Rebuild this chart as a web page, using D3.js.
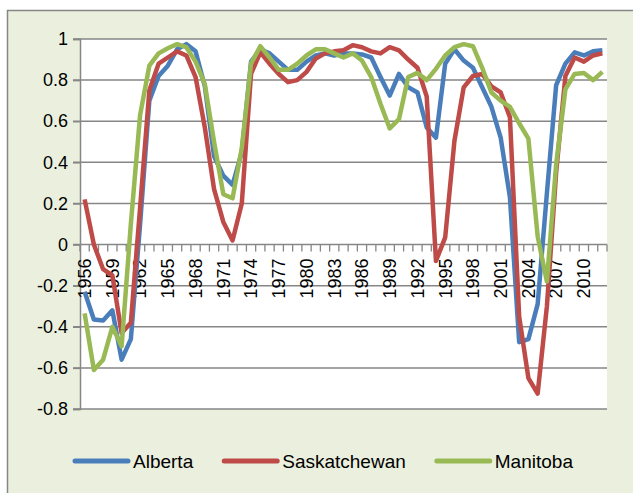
<!DOCTYPE html>
<html>
<head>
<meta charset="utf-8">
<script src="https://cdn.jsdelivr.net/npm/d3@7"></script>
<style>
  body { margin: 0; background: #fff; }
  svg { display: block; font-family: "Liberation Sans", Arial, sans-serif; }
</style>
</head>
<body>
<div class="wrapper"></div>
<script>
var years = d3.range(1956, 2013);
var yearLabels = years.filter(function(d) { return (d - 1956) % 3 === 0; });
var yTicks = [-0.8, -0.6, -0.4, -0.2, 0, 0.2, 0.4, 0.6, 0.8, 1];

var alberta = [-0.23, -0.365, -0.37, -0.32, -0.56, -0.46, 0.1, 0.7, 0.82, 0.87,
  0.95, 0.975, 0.94, 0.77, 0.43, 0.335, 0.29, 0.45, 0.89, 0.95,
  0.93, 0.89, 0.85, 0.85, 0.89, 0.92, 0.93, 0.92, 0.93, 0.93,
  0.925, 0.91, 0.815, 0.725, 0.83, 0.765, 0.74, 0.57, 0.52, 0.88,
  0.95, 0.895, 0.86, 0.765, 0.67, 0.52, 0.23, -0.475, -0.46, -0.29,
  0.25, 0.775, 0.88, 0.935, 0.92, 0.94, 0.945];

var saskatchewan = [0.22, 0.0, -0.12, -0.15, -0.43, -0.38, 0.18, 0.75, 0.88, 0.91,
  0.94, 0.92, 0.815, 0.57, 0.27, 0.11, 0.02, 0.2, 0.83, 0.935,
  0.88, 0.83, 0.79, 0.8, 0.84, 0.905, 0.93, 0.94, 0.945, 0.97,
  0.96, 0.94, 0.93, 0.96, 0.945, 0.9, 0.86, 0.72, -0.08, 0.035,
  0.505, 0.765, 0.82, 0.83, 0.77, 0.74, 0.62, -0.35, -0.65, -0.725,
  -0.3, 0.35, 0.82, 0.91, 0.89, 0.92, 0.93];

var manitoba = [-0.335, -0.61, -0.56, -0.4, -0.495, 0.1, 0.63, 0.87, 0.93, 0.955,
  0.975, 0.96, 0.89, 0.78, 0.5, 0.245, 0.225, 0.47, 0.88, 0.965,
  0.91, 0.85, 0.85, 0.88, 0.92, 0.95, 0.95, 0.93, 0.91, 0.93,
  0.895, 0.815, 0.685, 0.565, 0.61, 0.815, 0.835, 0.8, 0.855, 0.92,
  0.96, 0.975, 0.965, 0.86, 0.74, 0.7, 0.67, 0.59, 0.515, 0.04,
  -0.18, 0.39, 0.755, 0.83, 0.835, 0.8, 0.84];

var seriesNames = ["Alberta", "Saskatchewan", "Manitoba"];
var seriesData = [alberta, saskatchewan, manitoba];
var colors = ["#4A7EBB", "#BE4B48", "#98B954"];

var width = 633,
    height = 493,
    plotLeft = 80, plotRight = 607,
    plotTop = 39, plotBottom = 409;

var grey = "#868686";

var svg = d3.select(".wrapper").append("svg")
    .attr("width", width)
    .attr("height", height);

// chart area
svg.append("rect")
    .attr("x", 0).attr("y", 0).attr("width", width).attr("height", height)
    .attr("fill", "#fff");
svg.append("rect")
    .attr("x", 7.5).attr("y", 10.5).attr("width", width + 20).attr("height", height + 20)
    .attr("fill", "#EBF0DE")
    .attr("stroke", grey).attr("stroke-width", 1.5);

svg.append("rect")
    .attr("x", plotLeft).attr("y", plotTop)
    .attr("width", plotRight - plotLeft).attr("height", plotBottom - plotTop)
    .attr("fill", "#fff");

var x = d3.scaleBand().domain(years).range([plotLeft, plotRight]).padding(0);
var y = d3.scaleLinear().domain([-0.8, 1]).range([plotBottom, plotTop]);

function cx(i) { return x(years[i]) + x.bandwidth() / 2; }

// gridlines
svg.append("g").selectAll("line")
    .data(yTicks)
  .enter().append("line")
    .attr("x1", plotLeft - 7).attr("x2", plotRight)
    .attr("y1", function(d) { return y(d); })
    .attr("y2", function(d) { return y(d); })
    .attr("stroke", grey).attr("stroke-width", 1.5);

// y axis
var yAxis = svg.append("g")
    .attr("transform", "translate(" + plotLeft + ",0)")
    .call(d3.axisLeft(y).tickValues(yTicks).tickSize(7).tickPadding(5)
      .tickFormat(function(d) { return String(Math.round(d * 10) / 10); }));
yAxis.select(".domain").attr("stroke", grey).attr("stroke-width", 1.5);
yAxis.selectAll(".tick line").attr("stroke", grey).attr("stroke-width", 1.5);
yAxis.selectAll("text").attr("fill", "#000").style("font-size", "18px")
    .style("font-family", "Liberation Sans, Arial, sans-serif");

// x axis at zero
var xAxisY = y(0);
svg.append("g").selectAll("line")
    .data(years.concat(["end"]))
  .enter().append("line")
    .attr("x1", function(d, i) { return plotLeft + i * x.bandwidth(); })
    .attr("x2", function(d, i) { return plotLeft + i * x.bandwidth(); })
    .attr("y1", xAxisY).attr("y2", xAxisY + 7)
    .attr("stroke", grey).attr("stroke-width", 1.3);

svg.append("g").selectAll("text")
    .data(yearLabels)
  .enter().append("text")
    .attr("transform", function(d) {
      return "translate(" + (x(d) + x.bandwidth() / 2) + "," + (xAxisY + 14) + ") rotate(-90)";
    })
    .attr("text-anchor", "end")
    .attr("dy", "0.35em")
    .style("font-size", "18px")
    .attr("fill", "#000")
    .text(function(d) { return d; });

// lines
var line = d3.line()
    .x(function(d, i) { return cx(i); })
    .y(function(d) { return y(d); });

svg.append("g").selectAll("path")
    .data(seriesData)
  .enter().append("path")
    .attr("d", line)
    .attr("fill", "none")
    .attr("stroke", function(d, i) { return colors[i]; })
    .attr("stroke-width", 4.5)
    .attr("stroke-linejoin", "round");

// legend
var legendY = 461;
var lx = 73;
seriesNames.forEach(function(name, i) {
  var g = svg.append("g");
  g.append("line")
    .attr("x1", lx + 2).attr("x2", lx + 55)
    .attr("y1", legendY).attr("y2", legendY)
    .attr("stroke", colors[i]).attr("stroke-width", 5)
    .attr("stroke-linecap", "round");
  var t = g.append("text")
    .attr("x", lx + 60).attr("y", legendY)
    .attr("dy", "0.35em")
    .style("font-size", "19px")
    .attr("fill", "#000")
    .text(name);
  lx = lx + 60 + t.node().getComputedTextLength() + 29;
});
</script>
</body>
</html>
